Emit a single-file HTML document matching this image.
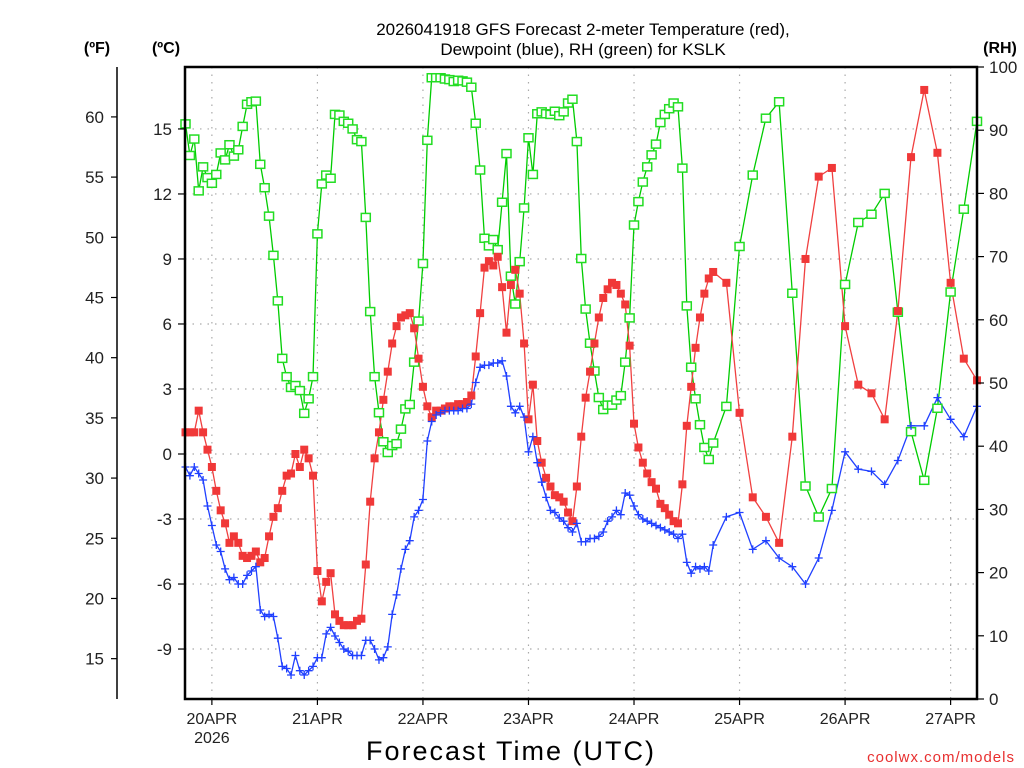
<!DOCTYPE html>
<html><head><meta charset="utf-8"><style>
body{margin:0;background:#fff;}
svg{display:block;font-family:"Liberation Sans",sans-serif;}
</style></head><body>
<svg id="chart" width="1024" height="768" viewBox="0 0 1024 768" xmlns="http://www.w3.org/2000/svg">
<rect width="1024" height="768" fill="#fff"/>
<g id="grid"></g>
<g id="series"></g>
<g id="axes"></g>
<text x="583" y="35" text-anchor="middle" font-size="17" fill="#000">2026041918 GFS Forecast 2-meter Temperature (red),</text>
<text x="583" y="55" text-anchor="middle" font-size="17" fill="#000">Dewpoint (blue), RH (green) for KSLK</text>
<text x="97" y="53" text-anchor="middle" font-size="16" font-weight="bold">(ºF)</text>
<text x="166" y="53" text-anchor="middle" font-size="16" font-weight="bold">(ºC)</text>
<text x="1000" y="53" text-anchor="middle" font-size="16" font-weight="bold">(RH)</text>
<text x="511" y="760" text-anchor="middle" font-size="27" letter-spacing="2">Forecast Time (UTC)</text>
<text x="1015" y="762" text-anchor="end" font-size="15" fill="#e83030" letter-spacing="1">coolwx.com/models</text>
</svg>
<script>
const tempHours = [0,1,2,3,4,5,6,7,8,9,10,11,12,13,14,15,16,17,18,19,20,21,22,23,24,25,26,27,28,29,30,31,32,33,34,35,36,37,38,39,40,41,42,43,44,45,46,47,48,49,50,51,52,53,54,55,56,57,58,59,60,61,62,63,64,65,66,67,68,69,70,71,72,73,74,75,76,77,78,79,80,81,82,83,84,85,86,87,88,89,90,91,92,93,94,95,96,97,98,99,100,101,102,103,104,105,106,107,108,109,110,111,112,113,114,115,116,117,118,119,120,123,126,129,132,135,138,141,144,147,150,153,156,159,162,165,168,171,174,177,180];
const tempC = [1.0,1.0,1.0,2.0,1.0,0.2,-0.6,-1.7,-2.6,-3.2,-4.1,-3.8,-4.1,-4.7,-4.8,-4.7,-4.5,-5.0,-4.8,-3.8,-2.9,-2.5,-1.7,-1.0,-0.9,0.0,-0.6,0.2,-0.2,-1.0,-5.4,-6.8,-5.9,-5.5,-7.4,-7.7,-7.9,-7.9,-7.9,-7.7,-7.6,-5.1,-2.2,-0.2,1.0,2.5,3.8,5.1,5.9,6.3,6.4,6.5,5.8,4.4,3.1,2.2,1.7,2.0,2.0,2.1,2.2,2.2,2.3,2.3,2.4,2.7,4.5,6.5,8.6,8.9,8.7,9.1,7.7,5.6,7.8,8.5,7.4,5.1,1.6,3.2,0.6,-0.4,-1.1,-1.5,-1.9,-2.0,-2.2,-2.7,-3.1,-1.5,0.8,2.6,3.8,5.1,6.3,7.2,7.6,7.9,7.8,7.4,6.9,5.0,1.4,0.3,-0.4,-0.9,-1.3,-1.6,-2.3,-2.5,-2.8,-3.1,-3.2,-1.4,1.3,3.1,4.9,6.3,7.4,8.1,8.4,7.9,1.9,-2.0,-2.9,-4.1,0.8,9.0,12.8,13.2,5.9,3.2,2.8,1.6,6.6,13.7,16.8,13.9,7.9,4.4,3.4];
const dewC = [-0.6,-1.0,-0.6,-0.9,-1.2,-2.4,-3.3,-4.2,-4.5,-5.3,-5.8,-5.7,-6.0,-6.0,-5.6,-5.4,-5.2,-7.2,-7.5,-7.4,-7.5,-8.5,-9.8,-9.9,-10.2,-9.3,-10.0,-10.2,-10.0,-9.8,-9.4,-9.4,-8.3,-8.0,-8.4,-8.7,-9.0,-9.1,-9.3,-9.3,-9.3,-8.6,-8.6,-9.0,-9.5,-9.4,-8.9,-7.4,-6.5,-5.3,-4.4,-4.0,-2.9,-2.6,-2.1,0.6,1.5,1.8,1.9,2.0,2.0,2.0,2.0,2.1,2.1,2.3,3.3,4.0,4.1,4.1,4.2,4.2,4.3,3.6,2.2,1.9,2.2,1.7,0.1,0.8,-0.4,-1.3,-2.0,-2.6,-2.7,-2.95,-3.1,-3.4,-3.6,-3.2,-4.05,-4.05,-3.9,-3.9,-3.8,-3.6,-3.1,-2.9,-2.6,-2.8,-1.8,-1.9,-2.4,-2.8,-3.0,-3.1,-3.2,-3.3,-3.4,-3.5,-3.6,-3.7,-3.9,-3.7,-5.0,-5.5,-5.2,-5.3,-5.2,-5.4,-4.2,-2.9,-2.7,-4.4,-4.0,-4.8,-5.2,-6.0,-4.8,-2.6,0.1,-0.7,-0.8,-1.4,-0.3,1.3,1.3,2.6,1.6,0.8,2.2];
const rhPct = [91.0,86.0,88.6,80.4,84.2,82.5,81.6,83.0,86.4,85.3,87.7,85.9,86.9,90.6,94.1,94.5,94.6,84.6,80.9,76.4,70.2,63.0,53.9,51.0,49.3,49.6,48.8,45.2,47.5,51.0,73.6,81.5,82.9,82.4,92.5,92.4,91.4,91.1,90.2,88.5,88.2,76.2,61.3,51.0,45.3,40.7,39.0,40.1,40.4,42.7,45.9,46.6,53.3,59.8,68.9,88.4,98.3,98.3,98.3,98.1,98.0,97.7,97.9,97.8,97.6,96.8,91.1,83.7,72.9,71.7,72.7,71.1,78.6,86.3,66.9,62.5,69.2,77.7,88.8,83.0,92.6,92.9,92.6,92.5,93.0,92.3,92.9,94.3,94.9,88.2,69.7,61.7,56.3,51.9,47.7,45.8,46.5,46.5,47.3,48.0,53.3,60.3,75.0,78.7,81.8,84.2,86.1,87.8,91.2,92.5,93.4,94.3,93.7,84.0,62.2,52.5,47.5,43.4,39.8,37.9,40.5,46.3,71.6,82.9,91.9,94.5,64.2,33.7,28.8,33.3,65.6,75.4,76.7,80.0,61.2,42.3,34.6,46.0,64.4,77.5,91.4];
const celsiusTicks = [-9,-6,-3,0,3,6,9,12,15];
const fahrenheitTicks = [15,20,25,30,35,40,45,50,55,60];
const rhTicks = [0,10,20,30,40,50,60,70,80,90,100];
const dayLabels = ["20APR","21APR","22APR","23APR","24APR","25APR","26APR","27APR"];
const dayHours = [6,30,54,78,102,126,150,174];

const NS="http://www.w3.org/2000/svg";
const L=185, R=977, T=67, B=699;
const H0=0, H1=180, CMIN=-11.3, CMAX=17.87;
const xs=h=>L+0.5+(h-H0)/(H1-H0)*(R-L-0.5);
const yc=c=>454-c*21.67;
const yf=f=>yc((f-32)/1.8);
const yr=r=>B-r*(B-T)/100;
function el(tag,attrs,parent){const e=document.createElementNS(NS,tag);for(const k in attrs)e.setAttribute(k,attrs[k]);parent.appendChild(e);return e;}
const grid=document.getElementById('grid'), axes=document.getElementById('axes'), ser=document.getElementById('series');

celsiusTicks.forEach(c=>{
  const g=el('line',{x1:L,x2:R,y1:yc(c),y2:yc(c),stroke:'#aaa','stroke-width':1.2,'stroke-dasharray':'1.5 6'},grid);
  
  
  const t=el('line',{x1:L-7,x2:L,y1:yc(c),y2:yc(c),stroke:'#000','stroke-width':1.2},axes);
  
  
  const lb=el('text',{x:L-13,y:yc(c)+6,'text-anchor':'end','font-size':17,fill:'#222'},axes);
  lb.textContent=c;
  
  
});
dayHours.forEach((h,i)=>{
  const g=el('line',{x1:xs(h),x2:xs(h),y1:T,y2:B,stroke:'#aaa','stroke-width':1.2,'stroke-dasharray':'1.5 6'},grid);
  
  
  const t=el('line',{x1:xs(h),x2:xs(h),y1:B,y2:B+6,stroke:'#000','stroke-width':1.2},axes);
  
  
  const lb=el('text',{x:xs(h),y:724,'text-anchor':'middle','font-size':16,fill:'#222'},axes);
  lb.textContent=dayLabels[i];
  
  
});
const yr26=el('text',{x:xs(dayHours[0]),y:743,'text-anchor':'middle','font-size':16,fill:'#222'},axes);
yr26.textContent='2026';



const faxis=el('line',{x1:117,x2:117,y1:67,y2:699,stroke:'#000','stroke-width':1.5},axes);


fahrenheitTicks.forEach(f=>{
  const t=el('line',{x1:111,x2:117,y1:yf(f),y2:yf(f),stroke:'#000','stroke-width':1.2},axes);
  
  
  const lb=el('text',{x:104,y:yf(f)+6,'text-anchor':'end','font-size':17,fill:'#222'},axes);
  lb.textContent=f;
  
  
});
rhTicks.forEach(r=>{
  const t=el('line',{x1:R,x2:R+7,y1:yr(r),y2:yr(r),stroke:'#000','stroke-width':1.2},axes);
  
  
  const lb=el('text',{x:989,y:yr(r)+6,'text-anchor':'start','font-size':17,fill:'#222'},axes);
  lb.textContent=r;
  
  
});
const frame=el('rect',{x:L,y:T,width:R-L,height:B-T,fill:'none',stroke:'#000','stroke-width':2.5},axes);



function line(vals,yfn,color,name){
  const pts=vals.map((v,i)=>xs(tempHours[i]).toFixed(1)+','+yfn(v).toFixed(1)).join(' ');
  const p=el('polyline',{points:pts,fill:'none',stroke:color,'stroke-width':1.3},ser);
  
  
}
line(rhPct,yr,'#00cc00','rh-line');
line(tempC,yc,'#f04040','temperature-line');
line(dewC,yc,'#2040ff','dewpoint-line');
rhPct.forEach((v,i)=>{
  const m=el('rect',{x:xs(tempHours[i])-4.5,y:yr(v)-4,width:9,height:8,fill:'#fff',stroke:'#22dd22','stroke-width':1.5},ser);
  
  
});
tempC.forEach((v,i)=>{
  const m=el('rect',{x:xs(tempHours[i])-4,y:yc(v)-4,width:8,height:8,fill:'#f03838'},ser);
  
  
});
dewC.forEach((v,i)=>{
  const x=xs(tempHours[i]), y=yc(v);
  const m=el('path',{d:`M${x-4},${y}H${x+4}M${x},${y-4}V${y+4}`,stroke:'#2040ff','stroke-width':1.3,fill:'none'},ser);
  
  
});
</script>
</body></html>
